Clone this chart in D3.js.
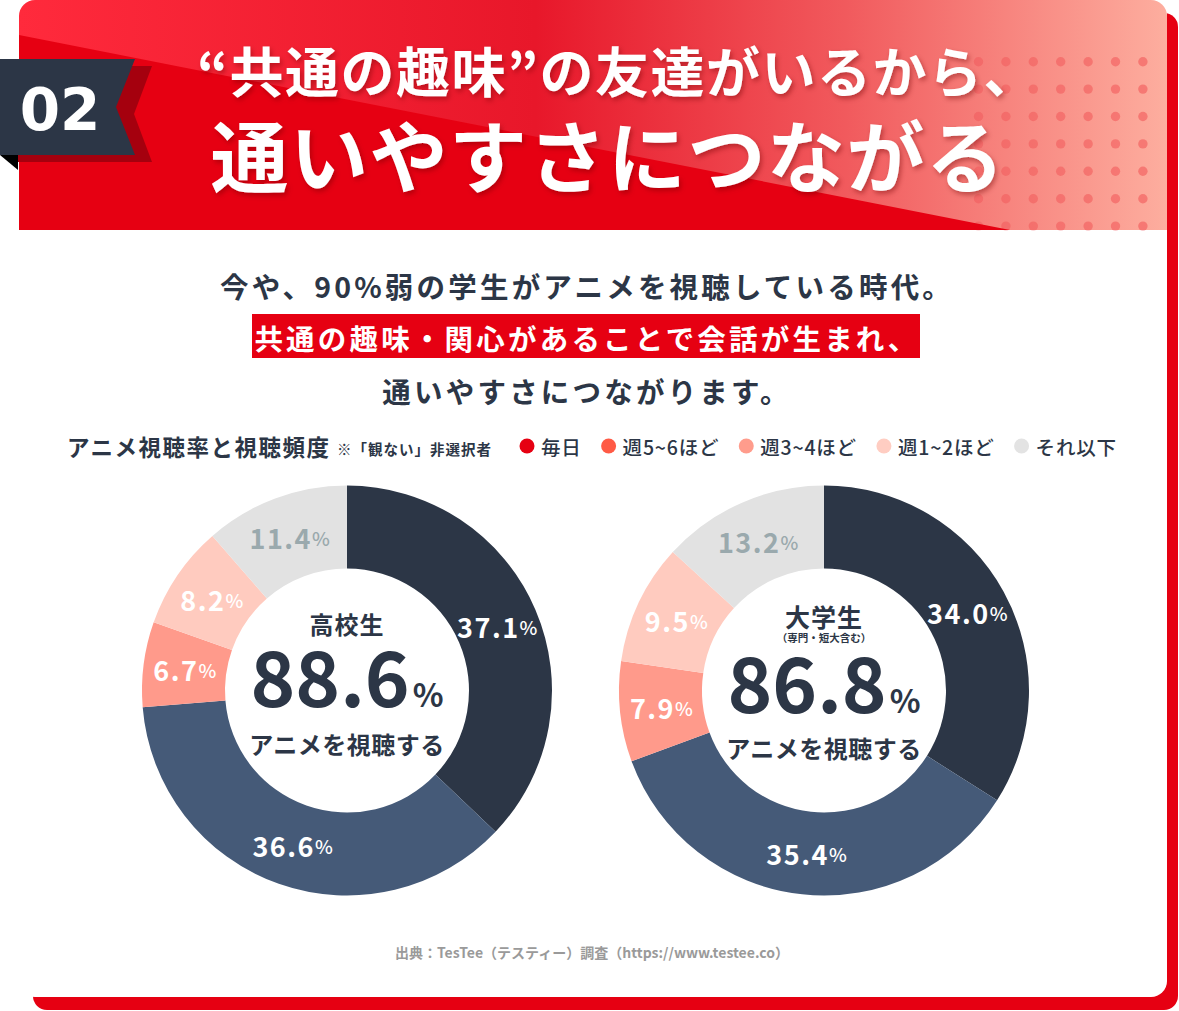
<!DOCTYPE html>
<html>
<head>
<meta charset="utf-8">
<script src="https://cdn.jsdelivr.net/npm/d3@7"></script>
<style>
  body { margin: 0; background: #fff; }
  svg { display: block; }
  text { font-family: "Noto Sans CJK JP", "Noto Sans", sans-serif; font-weight: 700; }
</style>
</head>
<body>
<div id="container"></div>
<script>
// --- data ---
const categories = ["毎日", "週5~6ほど", "週3~4ほど", "週1~2ほど", "それ以下"];
const highSchool = [37.1, 36.6, 6.7, 8.2, 11.4];
const university = [34.0, 35.4, 7.9, 9.5, 13.2];
const groups = ["高校生", "大学生"];
const groupNotes = ["", "（専門・短大含む）"];
const watchRates = [88.6, 86.8];

const titleLines = ["“共通の趣味”の友達がいるから、", "通いやすさにつながる"];
const leadLines = [
  "今や、90%弱の学生がアニメを視聴している時代。",
  "共通の趣味・関心があることで会話が生まれ、",
  "通いやすさにつながります。"
];
const legendTitle = "アニメ視聴率と視聴頻度";
const legendNote = "※「観ない」非選択者";
const centerCaption = "アニメを視聴する";
const source = "出典：TesTee（テスティー）調査（https://www.testee.co）";

const legendColors = ["#e60012", "#ff5a45", "#ff9c8c", "#ffcdc2", "#e3e3e3"];
const sliceColors = ["#2c3646", "#455a78", "#ff9a8b", "#ffcbbf", "#e2e2e2"];
const navy = "#2c3646";

const width = 1179, height = 1011;

const svg = d3.select("#container").append("svg")
  .attr("width", width).attr("height", height);

const defs = svg.append("defs");

const grad = defs.append("linearGradient").attr("id", "hdr")
  .attr("x1", 0).attr("x2", 1).attr("y1", 0).attr("y2", 0);
[[0, "#ff2a3c"], [0.45, "#e8172a"], [0.72, "#f15a5d"], [1, "#fdae9f"]]
  .forEach(([o, c]) => grad.append("stop").attr("offset", o).attr("stop-color", c));

defs.append("clipPath").attr("id", "card")
  .append("rect").attr("x", 19).attr("y", 0).attr("width", 1148).attr("height", 997).attr("rx", 16);

const shadow = defs.append("filter").attr("id", "tshadow")
  .attr("x", "-10%").attr("y", "-30%").attr("width", "120%").attr("height", "160%");
shadow.append("feDropShadow").attr("dx", 2).attr("dy", 3).attr("stdDeviation", 2.5)
  .attr("flood-color", "#6a000c").attr("flood-opacity", 0.4);

// card with red offset
svg.append("rect").attr("x", 33).attr("y", 13).attr("width", 1145).attr("height", 997)
  .attr("rx", 14).attr("fill", "#e60012");
svg.append("rect").attr("x", 19).attr("y", 0).attr("width", 1148).attr("height", 997)
  .attr("rx", 16).attr("fill", "#fff");

// header band
const header = svg.append("g").attr("clip-path", "url(#card)");
header.append("rect").attr("x", 19).attr("y", 0).attr("width", 1148).attr("height", 230)
  .attr("fill", "url(#hdr)");
header.append("polygon").attr("points", "19,35 1010,230 19,230").attr("fill", "#e60012");

const dotCols = d3.range(7), dotRows = d3.range(7);
header.append("g").selectAll("circle")
  .data(d3.cross(dotCols, dotRows))
  .join("circle")
  .attr("cx", d => 978.5 + d[0] * 27.4)
  .attr("cy", d => 61.7 + d[1] * 27.4)
  .attr("r", 4.7)
  .attr("fill", "#e60012")
  .attr("fill-opacity", d => 0.15 + d[0] * 0.022);

const title = svg.append("g").attr("filter", "url(#tshadow)").attr("fill", "#fff");
title.append("text").attr("x", 618).attr("y", 69)
  .attr("text-anchor", "middle").attr("dominant-baseline", "central")
  .attr("font-size", 54).attr("letter-spacing", 1.5)
  .text(titleLines[0]);
title.append("text").attr("x", 608).attr("y", 153)
  .attr("text-anchor", "middle").attr("dominant-baseline", "central")
  .attr("font-size", 78).attr("letter-spacing", 1.5)
  .text(titleLines[1]);

// "02" badge
svg.append("polygon").attr("points", "18,66 152,66 134,114 152,162 18,162").attr("fill", "#a5000e");
svg.append("polygon").attr("points", "0,59 135,59 116,107 135,155 0,155").attr("fill", navy);
svg.append("polygon").attr("points", "0,155 18,155 18,170").attr("fill", "#000");
svg.append("text").attr("x", 60).attr("y", 130)
  .attr("text-anchor", "middle")
  .style("font-family", "'DejaVu Sans', sans-serif")
  .attr("font-size", 58).attr("fill", "#fff")
  .text("02");

// lead text
svg.append("rect").attr("x", 252).attr("y", 314).attr("width", 668).attr("height", 44)
  .attr("fill", "#e60012");
svg.selectAll("text.lead")
  .data(leadLines)
  .join("text")
  .attr("class", "lead")
  .attr("x", 587)
  .attr("y", (d, i) => [285, 337, 390][i])
  .attr("text-anchor", "middle").attr("dominant-baseline", "central")
  .attr("font-size", 28.5).attr("letter-spacing", 3.2)
  .attr("fill", (d, i) => i === 1 ? "#fff" : navy)
  .text(d => d);

// legend row
const legendY = 446;
svg.append("text").attr("x", 67).attr("y", legendY)
  .attr("dominant-baseline", "central")
  .attr("font-size", 22.5).attr("letter-spacing", 1.5).attr("fill", navy)
  .text(legendTitle);
svg.append("text").attr("x", 337).attr("y", legendY + 2)
  .attr("dominant-baseline", "central")
  .attr("font-size", 14.5).attr("letter-spacing", 1).attr("fill", navy)
  .text(legendNote);

let lx = 527;
categories.forEach((c, i) => {
  svg.append("circle").attr("cx", lx).attr("cy", legendY).attr("r", 7.5).attr("fill", legendColors[i]);
  const t = svg.append("text").attr("x", lx + 14).attr("y", legendY)
    .attr("dominant-baseline", "central")
    .attr("font-size", 19.5).attr("letter-spacing", 0.8).attr("fill", navy)
    .style("font-weight", 500)
    .text(c);
  lx += 14 + t.node().getComputedTextLength() + 27;
});

// donuts
const pie = d3.pie().sort(null).value(d => d);
const arc = d3.arc().innerRadius(122).outerRadius(205);

function drawDonut(cx, cy, values, idx) {
  const g = svg.append("g").attr("transform", `translate(${cx},${cy})`);
  const arcs = pie(values);

  g.selectAll("path").data(arcs).join("path")
    .attr("d", arc)
    .attr("fill", (d, i) => sliceColors[i]);

  const lab = g.selectAll("text.pct").data(arcs).join("text")
    .attr("class", "pct")
    .attr("transform", d => `translate(${arc.centroid(d)})`)
    .attr("text-anchor", "middle").attr("dominant-baseline", "central")
    .attr("fill", (d, i) => i === 4 ? "#9aa9ad" : "#fff");
  lab.append("tspan").attr("font-size", 27).attr("letter-spacing", 1.5)
    .text(d => d.data.toFixed(1));
  lab.append("tspan").attr("font-size", 19).style("font-weight", 500).text("%");

  const hasNote = groupNotes[idx] !== "";
  g.append("text").attr("y", hasNote ? -75 : -67)
    .attr("text-anchor", "middle").attr("dominant-baseline", "central")
    .attr("font-size", hasNote ? 25 : 24).attr("letter-spacing", 1).attr("fill", navy)
    .text(groups[idx]);
  if (hasNote) {
    g.append("text").attr("y", -53)
      .attr("text-anchor", "middle").attr("dominant-baseline", "central")
      .attr("font-size", 10.5).attr("fill", navy)
      .text(groupNotes[idx]);
  }
  const big = g.append("text").attr("y", hasNote ? 22.5 : 16.5)
    .attr("text-anchor", "middle").attr("fill", navy);
  big.append("tspan").attr("font-size", 76).text(watchRates[idx].toFixed(1));
  big.append("tspan").attr("font-size", 32).attr("dx", 3).text("%");

  g.append("text").attr("y", hasNote ? 56.5 : 52.5)
    .attr("text-anchor", "middle").attr("dominant-baseline", "central")
    .attr("font-size", 24).attr("letter-spacing", 0.5).attr("fill", navy)
    .text(centerCaption);
}

drawDonut(347, 690.5, highSchool, 0);
drawDonut(824, 690.5, university, 1);

// source
svg.append("text").attr("x", 592).attr("y", 952)
  .attr("text-anchor", "middle").attr("dominant-baseline", "central")
  .attr("font-size", 14).attr("fill", "#9a9a9a")
  .text(source);
</script>
</body>
</html>
